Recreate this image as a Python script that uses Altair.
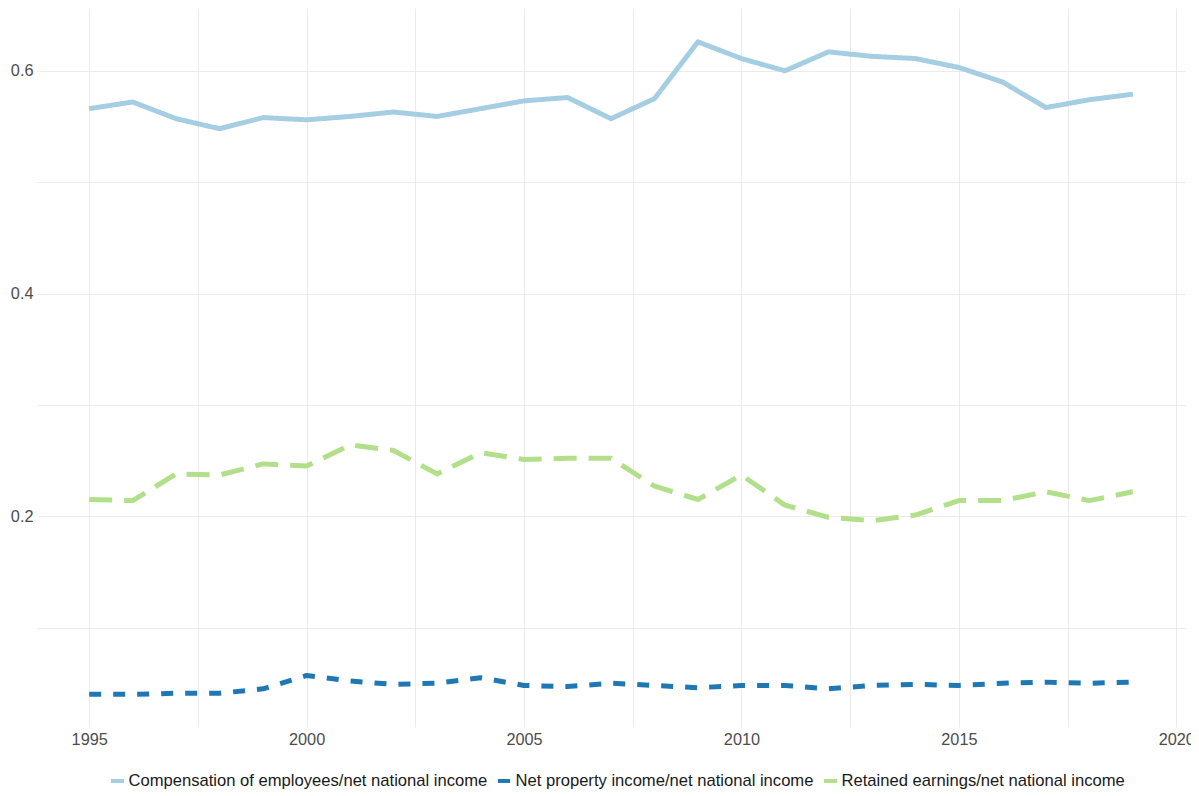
import altair as alt
import pandas as pd

years = list(range(1995, 2020))
compensation = [0.566, 0.572, 0.557, 0.548, 0.558, 0.556, 0.559, 0.563, 0.559, 0.566,
                0.573, 0.576, 0.557, 0.575, 0.626, 0.611, 0.600, 0.617, 0.613, 0.611,
                0.603, 0.590, 0.567, 0.574, 0.579]
net_property = [0.040, 0.040, 0.041, 0.041, 0.045, 0.057, 0.052, 0.049, 0.050, 0.055,
                0.048, 0.047, 0.050, 0.048, 0.046, 0.048, 0.048, 0.045, 0.048, 0.049,
                0.048, 0.050, 0.051, 0.050, 0.051]
retained = [0.215, 0.214, 0.238, 0.237, 0.247, 0.245, 0.264, 0.259, 0.238, 0.257,
            0.251, 0.252, 0.252, 0.227, 0.215, 0.237, 0.210, 0.199, 0.196, 0.201,
            0.214, 0.214, 0.222, 0.214, 0.222]

series_names = [
    "Compensation of employees/net national income",
    "Net property income/net national income",
    "Retained earnings/net national income",
]
colors = ["#a6cee3", "#1f78b4", "#b2df8a"]
dashes = [[1, 0], [12, 12], [23, 12]]

x_grid = [1995, 1997.5, 2000, 2002.5, 2005, 2007.5, 2010, 2012.5, 2015, 2017.5, 2020]
y_grid = [0.1, 0.2, 0.3, 0.4, 0.5, 0.6]

rows = []
for name, vals in zip(series_names, [compensation, net_property, retained]):
    for yr, v in zip(years, vals):
        rows.append({"year": yr, "value": v, "series": name})
df = pd.DataFrame(rows)

FONT = "Liberation Sans"

chart = alt.Chart(df).mark_line(strokeWidth=5, strokeJoin="round", strokeCap="butt").encode(
    x=alt.X("year:Q",
            scale=alt.Scale(domain=[1993.8, 2020.2], nice=False, zero=False),
            axis=alt.Axis(values=x_grid, title=None,
                          labelExpr="datum.value % 5 == 0 ? format(datum.value, 'd') : ''",
                          labelPadding=4)),
    y=alt.Y("value:Q",
            scale=alt.Scale(domain=[0.0107, 0.6564], nice=False, zero=False),
            axis=alt.Axis(values=y_grid, title=None,
                          labelExpr="abs(datum.value * 10 - 2 * round(datum.value * 5)) < 0.01 ? format(datum.value, '.1f') : ''",
                          labelPadding=4)),
    color=alt.Color("series:N",
                    scale=alt.Scale(domain=series_names, range=colors),
                    legend=alt.Legend(title=None, orient="none", legendX=72, legendY=764,
                                      direction="horizontal", symbolType="stroke",
                                      symbolSize=169, symbolStrokeWidth=4,
                                      labelFontSize=16.6, labelFont=FONT, labelColor="#1a1a1a",
                                      columnPadding=2, labelOffset=2.5, padding=0,
                                      labelLimit=600)),
    strokeDash=alt.StrokeDash("series:N",
                              scale=alt.Scale(domain=series_names, range=dashes),
                              legend=None),
).properties(
    width=1148,
    height=719,
    padding={"left": 29, "top": 0, "right": 6, "bottom": 64},
    autosize=alt.AutoSizeParams(type="none"),
).configure_view(
    stroke=None
).configure_axis(
    grid=True,
    gridColor="#ebebeb",
    gridWidth=1,
    domain=False,
    ticks=False,
    labelFont=FONT,
    labelFontSize=16.3,
    labelColor="#4d4d4d",
)

chart.save("out.html", embed_options={"renderer": "svg", "actions": False})
